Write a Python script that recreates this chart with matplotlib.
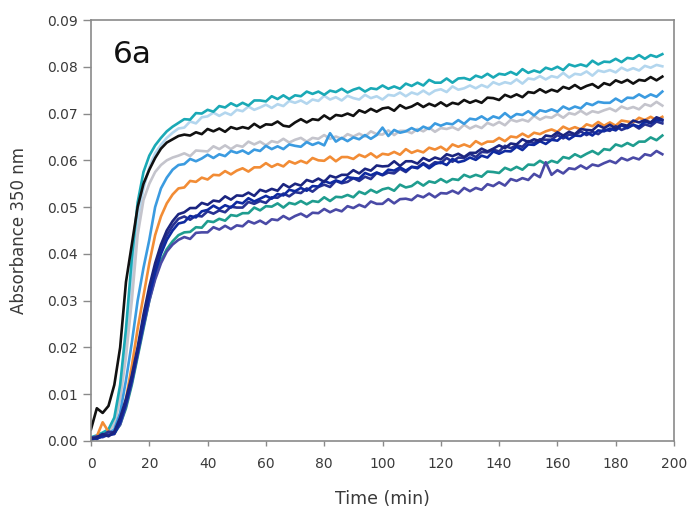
import numpy as np
import matplotlib
matplotlib.use("Agg")
import matplotlib.pyplot as plt

plt.rcParams['font.family'] = ['DejaVu Sans']

# time axis (min)
time_min = list(range(0, 197, 2))

# absorbance values in thousandths
teal = [0.8, 1.2, 1.8, 2.5, 5.0, 12.0, 24.0, 39.0, 51.0, 57.5, 61.0, 63.2, 64.8, 66.2, 67.2, 68.0,
        68.8, 68.7, 70.1, 70.0, 70.8,
        70.4, 71.6, 71.3, 72.2, 71.6, 72.3, 71.7, 72.8, 72.8, 72.6,
        73.7, 73.1, 73.9, 73.1, 73.9, 73.7, 74.7, 74.2, 74.7, 74.0,
        74.9, 74.6, 75.3, 74.5, 75.1, 75.5, 74.7, 75.4, 75.2, 76.0,
        75.3, 75.8, 75.3, 76.4, 75.9, 76.6, 76.0, 77.2, 76.6, 76.6, 77.5, 76.6, 77.5, 77.6, 77.2,
        78.1, 77.7, 78.5, 77.7, 78.5, 78.3, 78.9, 78.3, 79.5, 78.7, 79.2, 78.8, 79.8, 79.4, 80.0,
        79.3, 80.5, 80.1, 80.5, 80.1, 81.3, 80.5, 81.1, 81.0, 81.7, 81.0, 81.9, 81.7, 82.5, 81.7, 82.5, 82.1, 82.7]

light_blue = [0.5, 0.9, 1.4, 2.0, 4.0, 10.0, 21.0, 35.0, 47.0, 54.0, 58.5, 61.5, 63.3, 64.8, 65.9, 66.8,
              67.0, 68.3, 67.9, 69.2, 69.4,
              70.2, 69.5, 70.2, 69.7, 70.8, 70.5, 71.5, 70.8, 71.3, 71.9,
              71.2, 72.0, 71.6, 72.7, 72.3, 72.8, 72.1, 73.0, 72.7, 73.8,
              73.0, 73.5, 72.8, 73.8, 73.3, 73.0, 74.0, 73.3, 73.7, 73.0,
              74.0, 73.8, 74.5, 73.7, 74.5, 74.1, 74.9, 74.1, 74.9, 75.2, 74.6, 75.8, 75.1, 75.4, 76.0,
              75.4, 76.1, 75.6, 76.7, 76.2, 76.7, 76.4, 77.3, 76.4, 77.5, 77.3, 78.0, 77.3, 78.0, 77.7,
              78.7, 77.7, 78.5, 78.3, 79.0, 78.1, 79.2, 78.9, 79.3, 78.8, 79.8, 79.2, 79.7, 79.2, 80.2, 79.8, 80.4, 80.1]

black = [2.5, 7.0, 6.0, 7.5, 12.0, 20.0, 34.0, 42.0, 50.0, 55.0, 58.0, 60.5, 62.5, 63.8, 64.5, 65.2,
         65.5, 65.3, 66.0, 65.6, 66.7,
         66.2, 66.8, 66.1, 67.1, 66.7, 67.1, 66.8, 67.8, 67.0, 67.7,
         67.6, 68.3, 67.4, 67.2, 68.1, 68.8, 68.1, 68.8, 68.6, 69.6,
         68.8, 69.7, 69.5, 70.0, 69.5, 70.7, 70.2, 71.0, 70.4, 71.1,
         71.3, 70.6, 71.8, 71.1, 71.5, 72.2, 71.4, 72.1, 71.6, 72.4, 71.6, 72.3, 72.0, 72.9, 72.3,
         72.8, 72.3, 73.4, 73.3, 72.9, 74.0, 73.5, 74.1, 73.5, 74.6, 74.4, 75.2, 74.5, 75.1, 74.7,
         75.7, 75.3, 76.1, 75.3, 75.9, 76.3, 75.5, 76.5, 76.1, 77.1, 76.6, 77.2, 76.4, 77.2, 77.0, 77.8, 77.1, 77.9]

gray = [0.5, 1.0, 1.5, 2.0, 3.5, 9.0, 18.0, 30.0, 44.0, 51.5, 55.0, 57.5, 59.0, 60.0, 60.6, 61.0,
        61.5, 60.9, 62.1, 62.0, 61.9,
        63.0, 62.4, 63.2, 62.4, 63.2, 62.9, 64.0, 63.4, 64.0, 63.2,
        64.1, 63.8, 64.6, 63.8, 64.4, 64.8, 64.0, 64.8, 64.6, 65.4,
        64.6, 65.1, 64.6, 65.6, 65.1, 65.7, 65.1, 66.2, 65.6, 65.5,
        66.4, 65.4, 66.3, 66.3, 65.8, 66.7, 66.2, 67.0, 66.1, 66.9, 66.7, 67.1, 66.5, 67.6, 66.8,
        67.4, 66.9, 68.0, 67.5, 68.2, 67.5, 68.7, 68.3, 68.7, 68.3, 69.5, 68.7, 69.3, 69.1, 69.9,
        69.1, 70.1, 69.8, 70.6, 69.8, 70.5, 70.2, 70.7, 71.1, 70.5, 71.5, 71.0, 71.4, 70.9, 72.0, 71.6, 72.5, 71.7]

blue = [0.3, 0.6, 1.0, 1.5, 2.5, 6.0, 13.0, 21.0, 30.0, 37.0, 43.0, 50.0, 54.0, 56.3, 58.0, 59.0,
        59.2, 60.3, 59.8, 60.4, 61.2,
        60.5, 61.3, 60.9, 62.0, 61.6, 62.1, 61.4, 62.3, 62.0, 63.1,
        62.4, 63.0, 62.4, 63.4, 63.1, 62.9, 63.9, 63.3, 63.8, 63.2,
        65.8, 64.0, 64.8, 64.1, 64.9, 64.5, 65.4, 64.6, 65.4, 67.0,
        65.2, 66.5, 65.9, 66.2, 66.9, 66.3, 67.2, 66.7, 67.9, 67.4, 67.9, 67.7, 68.6, 67.8, 68.9,
        68.7, 69.4, 68.6, 69.4, 69.0, 70.1, 69.1, 69.9, 69.7, 70.5, 69.6, 70.7, 70.4, 70.9, 70.4,
        71.5, 70.9, 71.5, 71.1, 72.2, 71.8, 72.5, 72.3, 72.3, 73.2, 72.5, 73.4, 73.3, 74.1, 73.4, 74.1, 73.6, 74.7]

orange = [0.5, 1.0, 4.0, 2.0, 1.5, 4.0, 9.0, 16.0, 24.0, 31.0, 38.0, 44.0, 48.0, 50.8, 52.7, 54.0,
          54.2, 55.6, 55.4, 56.3, 55.9,
          56.9, 56.8, 57.7, 57.0, 57.8, 58.3, 57.6, 58.5, 58.5, 59.4,
          58.6, 59.2, 58.7, 59.8, 59.3, 59.9, 59.4, 60.5, 60.0, 59.9,
          60.8, 59.8, 60.7, 60.7, 60.3, 61.2, 60.7, 61.5, 60.6, 61.4,
          61.2, 61.8, 61.2, 62.4, 61.6, 62.1, 61.7, 62.7, 62.3, 62.9, 62.1, 63.4, 62.9, 63.4, 62.9,
          64.1, 63.4, 64.0, 64.0, 64.8, 64.1, 65.1, 64.9, 65.7, 65.0, 65.9, 65.6, 66.2, 66.6, 66.1,
          67.2, 66.6, 67.1, 66.6, 67.7, 67.3, 68.2, 67.4, 68.1, 67.4, 68.5, 68.3, 68.1, 69.1, 68.6, 69.3, 68.6, 69.3]

navy = [0.5, 0.8, 1.5, 1.0, 2.0, 5.0, 9.0, 14.0, 20.0, 27.0, 33.0, 38.0, 42.0, 45.0, 47.0, 48.5,
        48.9, 49.8, 49.8, 50.9, 50.5,
        51.4, 51.2, 52.3, 51.6, 52.5, 52.4, 53.1, 52.4, 53.7, 53.3,
        53.9, 53.5, 54.9, 54.2, 55.0, 54.6, 55.8, 55.4, 56.1, 55.4,
        56.7, 56.3, 56.9, 56.9, 57.9, 57.2, 58.2, 57.8, 58.9, 58.7,
        58.8, 59.8, 58.8, 59.8, 59.8, 59.3, 60.5, 59.9, 60.6, 60.2, 61.3, 60.9, 61.4, 60.7, 61.6,
        61.6, 62.5, 61.9, 62.5, 63.2, 62.6, 63.6, 63.4, 64.5, 63.9, 64.5, 64.1, 65.3, 65.1, 66.0,
        65.3, 66.1, 65.6, 66.7, 66.5, 66.4, 67.5, 66.9, 67.6, 66.8, 67.7, 67.4, 68.5, 68.1, 68.6, 68.1, 69.2, 68.7]

royal = [0.3, 0.6, 1.0, 1.2, 1.5, 4.0, 8.0, 13.0, 19.0, 25.0, 31.0, 36.0, 40.0, 43.0, 45.0, 46.5,
         46.8, 48.1, 47.8, 49.1, 49.4,
         50.3, 49.6, 50.4, 49.9, 51.1, 50.8, 51.9, 51.2, 51.8, 52.4,
         51.8, 52.8, 52.5, 53.7, 53.4, 54.1, 53.5, 54.5, 54.4, 55.6,
         55.1, 55.7, 55.3, 56.4, 56.2, 56.1, 57.3, 56.8, 57.4, 56.9,
         58.0, 57.8, 58.5, 57.8, 58.6, 58.3, 59.2, 58.3, 59.2, 59.6, 59.0, 60.3, 59.6, 59.9, 60.6,
         60.1, 61.0, 60.6, 61.9, 61.4, 62.0, 61.9, 62.9, 62.2, 63.4, 63.3, 64.1, 63.5, 64.4, 64.2,
         65.3, 64.5, 65.3, 65.2, 66.0, 65.3, 66.4, 66.2, 66.8, 66.4, 67.5, 66.9, 67.6, 67.2, 68.3, 67.9, 68.7, 68.5]

dark_indigo = [0.8, 0.4, 1.2, 2.0, 1.8, 4.5, 8.5, 13.5, 19.5, 26.0, 32.0, 37.0, 41.0, 44.0, 46.0, 47.5,
               48.0, 47.3, 48.2, 48.0, 49.1,
               48.6, 49.3, 48.9, 50.1, 49.9, 49.9, 51.1, 50.7, 51.3, 50.9,
               52.1, 52.0, 52.9, 52.3, 53.2, 53.0, 54.0, 53.3, 54.3, 54.8,
               54.3, 55.6, 55.1, 55.4, 56.2, 55.6, 56.5, 56.0, 57.3, 56.8,
               57.4, 57.2, 58.2, 57.5, 58.6, 58.5, 59.4, 58.7, 59.6, 59.4, 60.5, 59.7, 60.6, 60.5, 61.4,
               60.7, 61.8, 61.7, 62.3, 61.9, 63.1, 62.6, 63.2, 62.9, 64.1, 63.7, 64.5, 64.4, 64.4, 65.4,
               64.7, 65.5, 65.4, 66.2, 65.4, 66.1, 65.6, 66.6, 66.3, 67.3, 66.5, 67.0, 67.6, 66.8, 67.7, 67.3, 68.3, 67.9]

teal_green = [0.4, 0.7, 1.0, 1.4, 1.6, 3.5, 7.0, 12.0, 18.0, 24.0, 30.0, 35.0, 38.5, 41.0, 42.7, 44.0,
              44.6, 44.7, 45.7, 45.6, 47.0,
              46.8, 47.5, 47.1, 48.3, 48.1, 48.7, 48.7, 49.9, 49.3, 50.2,
              50.1, 50.8, 49.9, 50.9, 50.6, 51.3, 50.6, 51.3, 51.1, 52.1,
              51.3, 52.2, 52.1, 52.6, 52.1, 53.3, 52.8, 53.7, 53.1, 53.8,
              54.1, 53.5, 54.8, 54.2, 54.5, 55.4, 54.6, 55.5, 55.2, 56.0, 55.3, 56.0, 55.8, 56.9, 56.4,
              56.9, 56.5, 57.6, 57.5, 57.3, 58.4, 57.9, 58.6, 58.0, 59.1, 59.0, 59.9, 59.2, 59.9, 59.5,
              60.7, 60.4, 61.3, 60.7, 61.4, 62.0, 61.3, 62.4, 62.2, 63.4, 63.0, 63.7, 63.1, 64.0, 64.0, 64.9, 64.3, 65.3]

indigo = [0.6, 1.0, 0.8, 1.5, 1.8, 3.5, 7.5, 12.5, 18.5, 24.5, 30.0, 34.5, 38.0, 40.5, 42.0, 43.0,
          43.6, 43.2, 44.5, 44.6, 44.6,
          45.7, 45.2, 46.0, 45.3, 46.1, 45.9, 47.0, 46.5, 47.1, 46.4,
          47.4, 47.2, 48.1, 47.4, 48.1, 48.6, 47.9, 48.8, 48.7, 49.6,
          48.9, 49.5, 49.1, 50.2, 49.8, 50.5, 50.0, 51.2, 50.7, 50.7,
          51.7, 50.8, 51.7, 51.8, 51.5, 52.5, 52.1, 52.9, 52.1, 53.0, 52.9, 53.5, 52.9, 54.1, 53.4,
          54.1, 53.7, 54.9, 54.5, 55.3, 54.6, 56.0, 55.6, 56.2, 55.8, 57.1, 56.4, 59.6, 56.9, 57.9,
          57.2, 58.3, 58.1, 58.9, 58.2, 59.1, 58.8, 59.4, 59.9, 59.4, 60.5, 60.0, 60.6, 60.2, 61.3, 61.0, 62.0, 61.3]

series = [
    (light_blue, '#b3d6ee'),
    (gray, '#c4c4cc'),
    (teal, '#1aa9b6'),
    (black, '#111111'),
    (blue, '#3b9be0'),
    (orange, '#f28c35'),
    (teal_green, '#1f9d8f'),
    (indigo, '#4a4aa6'),
    (dark_indigo, '#283292'),
    (royal, '#0f2aa0'),
    (navy, '#1b2580'),
]

x_ticks = [0, 20, 40, 60, 80, 100, 120, 140, 160, 180, 200]
y_ticks = [0.00, 0.01, 0.02, 0.03, 0.04, 0.05, 0.06, 0.07, 0.08, 0.09]

fig = plt.figure(figsize=(6.93, 5.14), dpi=100)
ax = fig.add_axes([91/693, 1 - 441/514, 583/693, 421/514])

t = np.array(time_min)
for vals, col in series:
    ax.plot(t, np.array(vals) / 1000.0, color=col, lw=1.9, solid_joinstyle='round')

ax.set_xlim(0, 200)
ax.set_ylim(0, 0.09)
ax.set_xticks(x_ticks)
ax.set_yticks(y_ticks)
ax.set_xticklabels([str(v) for v in x_ticks])
ax.set_yticklabels([f"{v:.2f}" for v in y_ticks])

for s in ax.spines.values():
    s.set_color('#8a8a8a')
    s.set_linewidth(1.2)
ax.tick_params(axis='y', direction='out', length=6, width=1, color='#8a8a8a',
               labelsize=10, labelcolor='#3a3a3a', pad=3.5)
ax.tick_params(axis='x', direction='out', length=3.5, width=1, color='#8a8a8a',
               labelsize=10, labelcolor='#3a3a3a', pad=8)

ax.set_xlabel('Time (min)', fontsize=12.5, color='#3a3a3a', labelpad=14)
ax.set_ylabel('Absorbance 350 nm', fontsize=12, color='#3a3a3a', labelpad=14)

ax.text(0.038, 0.898, '6a', transform=ax.transAxes, fontsize=22.5, color='#111111',
        ha='left', va='baseline')

fig.savefig('out.png', dpi=100)
